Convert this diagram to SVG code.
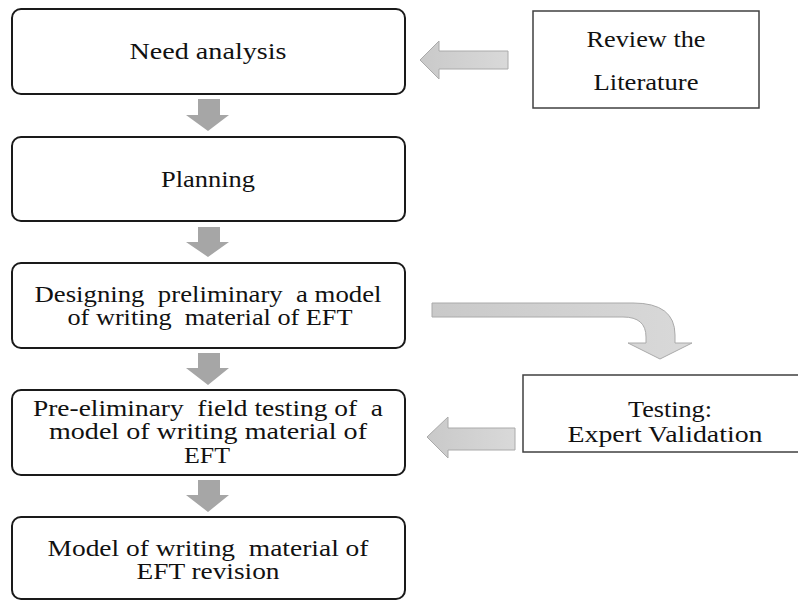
<svg xmlns="http://www.w3.org/2000/svg" width="798" height="601" viewBox="0 0 798 601" font-family="Liberation Serif, Times New Roman, serif">
<style>
.box{fill:#fff;stroke:#1a1a1a;stroke-width:2}
.sq{fill:#fff;stroke:#404040;stroke-width:1.5}
.t{font-size:23px;fill:#111;text-anchor:middle;white-space:pre}
.down{fill:#a6a6a6}
.side{fill:url(#g);stroke:#aaaaaa;stroke-width:1}
</style>
<defs>
<linearGradient id="g" x1="0" y1="0" x2="1" y2="0">
<stop offset="0" stop-color="#c9c9c9"/>
<stop offset="1" stop-color="#d9d9d9"/>
</linearGradient>
</defs>
<g id="connectors">
<path class="down" d="M198,99H220V115H229L208,131L186,115H198Z"/>
<path class="down" d="M198,227H220V242H229L208,257L186,242H198Z"/>
<path class="down" d="M198,353H220V368H229L208,385L186,368H198Z"/>
<path class="down" d="M198,480H220V495H229L208,512L186,495H198Z"/>
<path class="side" d="M420,60L439,41V51H508V69H439V79Z"/>
<path class="side" d="M427,437L448,417V428H515V450H448V458Z"/>
<path class="side" d="M432,303H633Q675,303 675,335V343H692L660,359L628,343H646V337Q646,317 623,317H432Z"/>
</g>
<g id="need-analysis">
<rect class="box" x="12" y="9" width="393" height="85" rx="9"/>
<text class="t" x="208" y="59" textLength="157" lengthAdjust="spacingAndGlyphs">Need analysis</text>
</g>
<g id="planning">
<rect class="box" x="12" y="137" width="393" height="84" rx="9"/>
<text class="t" x="208" y="187" textLength="94" lengthAdjust="spacingAndGlyphs">Planning</text>
</g>
<g id="designing">
<rect class="box" x="12" y="263" width="393" height="85" rx="9"/>
<text class="t" x="208" y="302" textLength="347" lengthAdjust="spacingAndGlyphs" xml:space="preserve">Designing  preliminary  a model</text>
<text class="t" x="210" y="325" textLength="285" lengthAdjust="spacingAndGlyphs" xml:space="preserve">of writing  material of EFT</text>
</g>
<g id="field-testing">
<rect class="box" x="12" y="390" width="393" height="85" rx="9"/>
<text class="t" x="208" y="416" textLength="350" lengthAdjust="spacingAndGlyphs" xml:space="preserve">Pre-eliminary  field testing of  a</text>
<text class="t" x="208" y="439" textLength="318" lengthAdjust="spacingAndGlyphs">model of writing material of</text>
<text class="t" x="207" y="463" textLength="46" lengthAdjust="spacingAndGlyphs">EFT</text>
</g>
<g id="revision">
<rect class="box" x="12" y="517" width="393" height="82" rx="9"/>
<text class="t" x="208" y="556" textLength="321" lengthAdjust="spacingAndGlyphs" xml:space="preserve">Model of writing  material of</text>
<text class="t" x="208" y="579" textLength="143" lengthAdjust="spacingAndGlyphs">EFT revision</text>
</g>
<g id="review-literature">
<rect class="sq" x="533" y="11" width="226" height="97"/>
<text class="t" x="646" y="47" textLength="119" lengthAdjust="spacingAndGlyphs">Review the</text>
<text class="t" x="646" y="90" textLength="105" lengthAdjust="spacingAndGlyphs">Literature</text>
</g>
<g id="expert-validation">
<rect class="sq" x="523" y="375" width="285" height="77"/>
<text class="t" x="670" y="417" textLength="84" lengthAdjust="spacingAndGlyphs">Testing:</text>
<text class="t" x="665" y="442" textLength="195" lengthAdjust="spacingAndGlyphs">Expert Validation</text>
</g>
</svg>
